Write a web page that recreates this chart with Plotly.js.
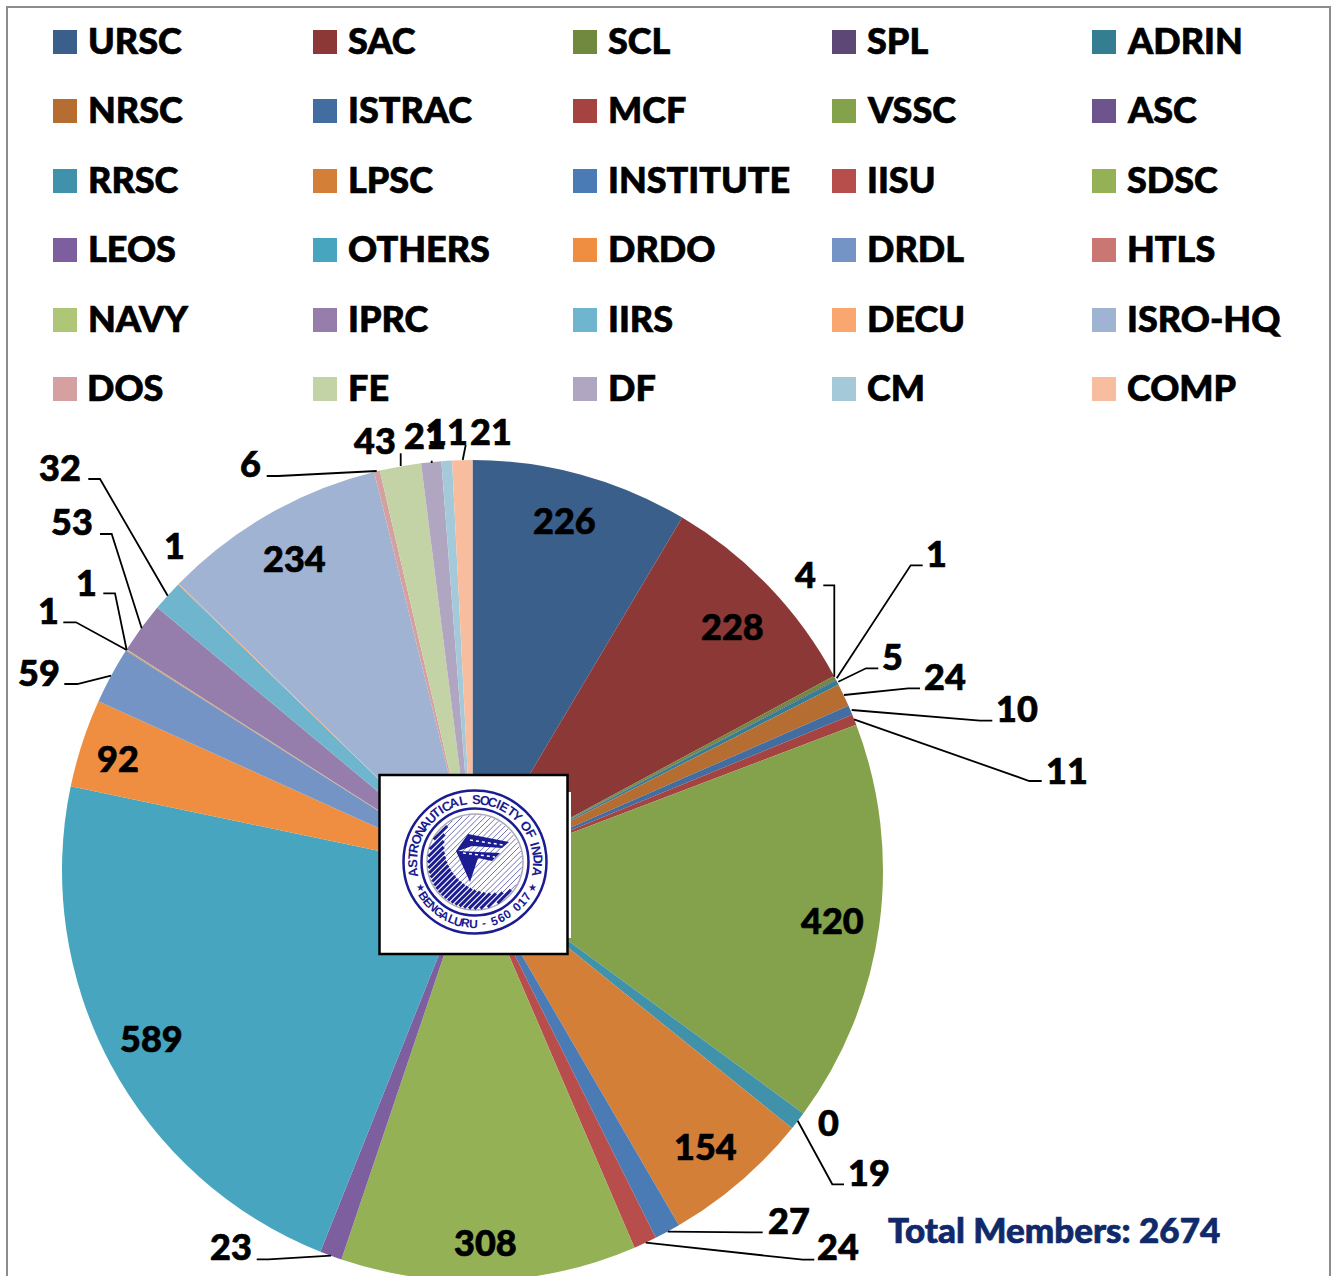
<!DOCTYPE html>
<html>
<head>
<meta charset="utf-8">
<script src="https://cdn.plot.ly/plotly-3.0.1.min.js"></script>
<style>html,body{margin:0;padding:0;background:#fff;overflow:hidden;width:1335px;height:1276px}</style>
</head>
<body>
<div id="chart"></div>
<script>
const categories = ["URSC","SAC","SCL","SPL","ADRIN","NRSC","ISTRAC","MCF","VSSC","ASC","RRSC","LPSC","INSTITUTE","IISU","SDSC","LEOS","OTHERS","DRDO","DRDL","HTLS","NAVY","IPRC","IIRS","DECU","ISRO-HQ","DOS","FE","DF","CM","COMP"];
const values = [226,228,4,1,5,24,10,11,420,0,19,154,27,24,308,23,589,92,59,1,1,53,32,1,234,6,43,21,11,21];
const colors = ["#3A5F8B","#8C3836","#71893F","#5C4776","#357D91","#B66D31","#426DA1","#A44340","#84A24B","#6E548D","#3F92A9","#D37F38","#4B7BB5","#B74E4C","#94B255","#7D5F9F","#47A5BF","#EF8E41","#7394C5","#CA7673","#AEC676","#957EAC","#6FB5CD","#F9A76E","#A1B3D3","#D5A1A0","#C4D3A5","#B1A6C2","#A4CADA","#F8BD9F"];
const totalText = "Total Members: 2674";
const logoTop = "ASTRONAUTICAL SOCIETY OF INDIA";
const logoBottom = "BENGALURU - 560 017";

// Layout helpers (pixel positions of labels and leader lines)
const W = 1335, H = 1300, FONT = "Lato, Carlito, sans-serif", LOGO = "#1B1B92";
const px = x => x / W, py = y => 1 - y / H;
const labelPos = [[564,520],[732,626],[805,574],[936,553],[892,656],[945,676],[1017,708],[1067,770],[832,920],[828,1122],[869,1172],[705.5,1146],[789,1220],[838,1246],[485.5,1242],[231,1246],[151.5,1038],[118,758],[38.5,672],[48,610],[86,582],[72,521],[60,467],[174,545],[294,558],[250,463],[375,440],[425,435],[447,431],[491,431]];
const leaders = [
 [[823.3,585.3],[834.3,585.3],[834.3,676.7]],
 [[922.7,565.3],[910.7,565.3],[836.7,678.3]],
 [[878.3,668.3],[866,668.3],[838.3,681.7]],
 [[920,688.3],[908.3,688.3],[844,695]],
 [[992.3,720.7],[980,720.7],[851.7,710]],
 [[1041.7,781],[1029.3,781],[854,719.3]],
 [[88.3,479],[100,479],[167.7,595.7]],
 [[100,534],[111.7,534],[141.7,628.3]],
 [[103.3,593.3],[115,593.3],[126.7,650]],
 [[63.3,622.3],[76,622.3],[126.7,650]],
 [[64.3,684],[77.3,684],[111,675.7]],
 [[266.7,476],[278.3,476],[376.7,471]],
 [[400.7,453.3],[400.7,466]],
 [[431.7,460.7],[431.7,463]],
 [[465.7,445],[462.7,460]],
 [[844,1184.3],[832.3,1184.3],[797.7,1120.7]],
 [[762.7,1232.3],[750,1232.3],[667.7,1231.7]],
 [[814.3,1259.7],[802.7,1259.7],[645.7,1242.7]],
 [[256.7,1259.3],[268.3,1259.3],[331,1255.7]]
];
const pathOf = pts => "M" + pts.map(p => px(p[0]) + "," + py(p[1])).join("L");
const shapes = [], annotations = [];
const rect = (x0,y0,x1,y1,fill,line) => shapes.push({type:"rect",xref:"paper",yref:"paper",x0:px(x0),x1:px(x1),y0:py(y0),y1:py(y1),fillcolor:fill,line:line||{width:0},layer:"above"});
const circle = (cx,cy,r,fill,line) => shapes.push({type:"circle",xref:"paper",yref:"paper",x0:px(cx-r),x1:px(cx+r),y0:py(cy+r),y1:py(cy-r),fillcolor:fill,line:line||{width:0},layer:"above"});
const seg = (x0,y0,x1,y1,color,width,dash) => shapes.push({type:"line",xref:"paper",yref:"paper",x0:px(x0),x1:px(x1),y0:py(y0),y1:py(y1),line:{color:color,width:width,dash:dash||"solid"},layer:"above"});
const text = (s,x,y,o) => annotations.push(Object.assign({text:s,x:px(x),y:py(y),xref:"paper",yref:"paper",showarrow:false,xanchor:"center",yanchor:"middle",borderpad:0,borderwidth:0,font:{family:FONT,size:36,color:"#000",weight:900}},o||{}));

// outer frame
shapes.push({type:"rect",xref:"paper",yref:"paper",x0:px(7),x1:px(1330),y0:py(1295),y1:py(7),fillcolor:"rgba(0,0,0,0)",line:{color:"#8C8C8C",width:2},layer:"below"});

// legend
const colX = [53,313,573,832,1092], rowY = [30,99,169,238,308,377];
categories.forEach((c,i) => {
  const col = i % 5, row = Math.floor(i / 5);
  rect(colX[col], rowY[row], colX[col]+24, rowY[row]+24, colors[i]);
  text(c, colX[col]+34.5, rowY[row]+10, {xanchor:"left"});
});

// leader lines
leaders.forEach(p => shapes.push({type:"path",xref:"paper",yref:"paper",path:pathOf(p),line:{color:"#000",width:1.8},fillcolor:"rgba(0,0,0,0)",layer:"above"}));

// value labels
values.forEach((v,i) => text(String(v), labelPos[i][0], labelPos[i][1]));
text(totalText, 888, 1229, {xanchor:"left", font:{family:FONT,size:35,color:"#10296B",weight:900}});

// logo
const LX = 475, LY = 862;
rect(560,792,571,938,"#fff");
rect(379.5,775,567.5,954,"#fff",{color:"#000",width:2.5});
circle(LX,LY,71.5,"#fff",{color:LOGO,width:2.5});
circle(LX,LY,53.5,"#fff",{color:LOGO,width:2.5});
circle(LX,LY,48,"#fff",{color:"#A9A9B8",width:1.5});
const R = 47, r = 49, s = 25, u = [Math.SQRT1_2,-Math.SQRT1_2], n = [Math.SQRT1_2,Math.SQRT1_2];
const P = (d,t) => [LX + d*n[0] + t*u[0], LY + d*n[1] + t*u[1]];
const hatch = [];
for (let k = -11; k <= 11; k++) hatch.push(k * 4.1);
hatch.forEach(d => {
  if (Math.abs(d) >= R) return;
  const a = Math.sqrt(R*R - d*d);
  const b = Math.sqrt(r*r - d*d);
  const i0 = s - b;
  const p0 = P(d,-a), p1 = P(d,Math.max(i0,-a)), p2 = P(d,a);
  if (i0 > -a) seg(p0[0],p0[1],p1[0],p1[1],LOGO,3);
  seg(p1[0],p1[1],p2[0],p2[1],"#6F6FB4",1);
});
const fPts = [[468,834],[509,842],[502,848],[472,846],[458,851],[500,853],[492,861],[478,858],[470,882],[456,851]];
shapes.push({type:"path",xref:"paper",yref:"paper",path:pathOf(fPts)+"Z",fillcolor:LOGO,line:{width:0},layer:"above"});
seg(470,840,503,845,"#fff",1.5,"dot");
seg(463,853,495,857,"#fff",1.5,"dot");

const weight = c => c === " " ? 0.55 : c === "I" ? 0.5 : (c === "T" || c === "-") ? 0.8 : 1;
function ringText(str, start, end, radius, bottom, size) {
  const ws = Array.from(str).map(weight), tot = ws.reduce((a,b)=>a+b,0);
  let acc = 0;
  Array.from(str).forEach((c,i) => {
    const mid = acc + ws[i]/2; acc += ws[i];
    if (c === " ") return;
    const deg = start + (end-start)*mid/tot;
    const ang = deg * Math.PI/180;
    const x = LX + radius*Math.sin(ang), y = bottom ? LY + radius*Math.cos(ang) : LY - radius*Math.cos(ang);
    text(c, x, y, {textangle: bottom ? -deg : deg, font:{family:"Liberation Sans Narrow, Liberation Sans, sans-serif",size:size,color:LOGO,weight:700}});
  });
}
ringText(logoTop, -103, 103, 62.5, false, 13);
ringText(logoBottom, -60, 60, 62, true, 12);
text("★", LX-55, LY+25, {font:{family:"DejaVu Sans",size:10,color:LOGO}});
text("★", LX+57, LY+25, {font:{family:"DejaVu Sans",size:10,color:LOGO}});

const trace = {
  type:"pie", labels:categories, values:values, sort:false, direction:"clockwise", rotation:0,
  textinfo:"none", marker:{colors:colors, line:{width:0}},
  domain:{x:[px(62),px(883)], y:[py(1281),py(460)]},
  showlegend:false, hoverinfo:"label+value"
};
Plotly.newPlot("chart",[trace],{
  width:W,height:H,margin:{l:0,r:0,t:0,b:0,pad:0},paper_bgcolor:"#fff",plot_bgcolor:"#fff",
  showlegend:false,shapes:shapes,annotations:annotations
},{displayModeBar:false,staticPlot:true}).then(gd => {
  // The reference's labels are heavier than the heaviest installed Lato: thicken them with a thin same-colour outline.
  gd.querySelectorAll("text.annotation-text").forEach(t => {
    if (parseFloat(t.style.fontSize) >= 30) { t.style.stroke = t.style.fill; t.style.strokeWidth = "0.7px"; }
  });
});
</script>
</body>
</html>
